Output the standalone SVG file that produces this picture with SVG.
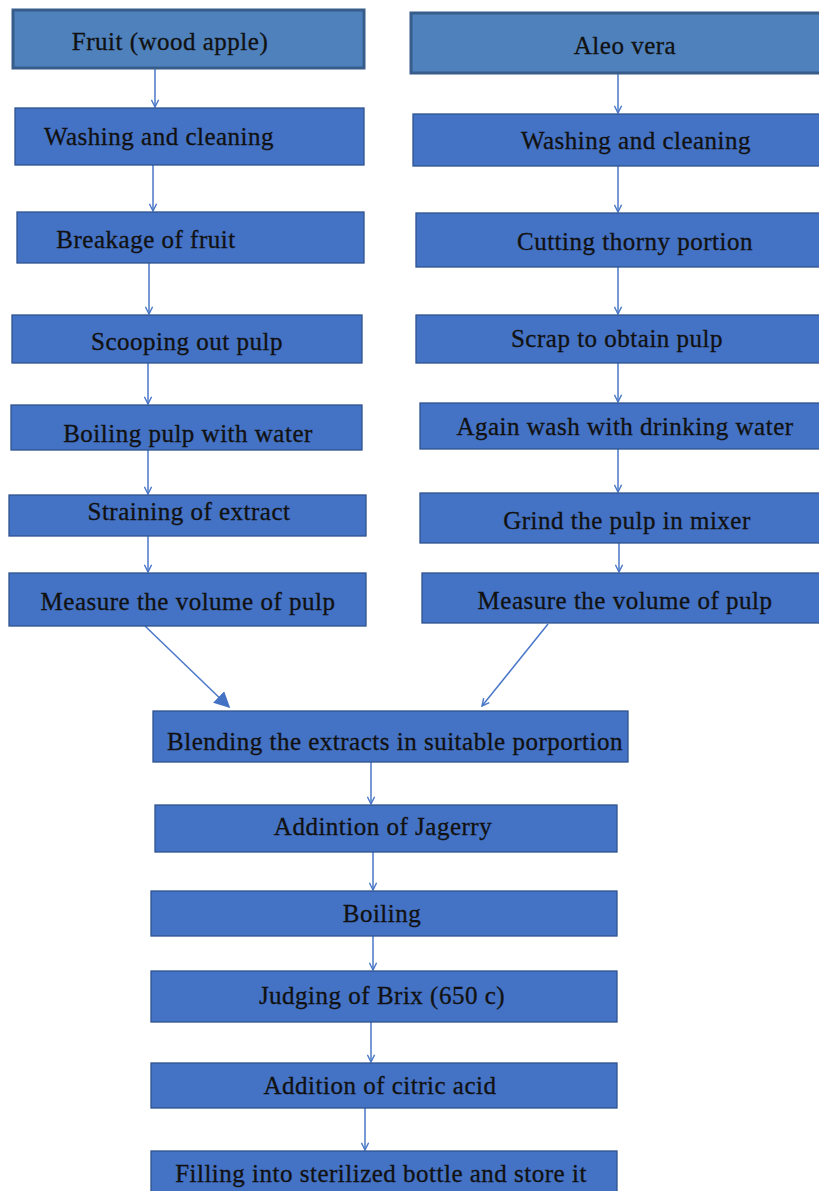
<svg xmlns="http://www.w3.org/2000/svg" width="819" height="1191" viewBox="0 0 819 1191">
<defs>
<style>
.box{fill:#4472c4;stroke:#2f528f;stroke-width:1.3}
.top{fill:#4f81bd;stroke:#385d8a;stroke-width:3}
.t{font-family:"Liberation Serif","Times New Roman",serif;font-size:25px;letter-spacing:0.5px;fill:#111;stroke:#111;stroke-width:0.3;text-anchor:middle}
.c{stroke:#4a78c8;stroke-width:1.5;fill:none}
</style>
<marker id="v" viewBox="0 0 10 10" refX="9" refY="5" markerWidth="9" markerHeight="9" markerUnits="userSpaceOnUse" orient="auto">
<path d="M1,1 L9,5 L1,9" fill="none" stroke="#4a78c8" stroke-width="1.6"/>
</marker>
<marker id="f" viewBox="0 0 10 10" refX="9" refY="5" markerWidth="16" markerHeight="16" markerUnits="userSpaceOnUse" orient="auto">
<path d="M0,0 L10,5 L0,10 z" fill="#4472c4"/>
</marker>
</defs>
<rect width="819" height="1191" fill="#fff"/>
<g id="connectors">
<line class="c" x1="155" y1="68" x2="155" y2="107" marker-end="url(#v)"/>
<line class="c" x1="153" y1="165" x2="153" y2="211" marker-end="url(#v)"/>
<line class="c" x1="149" y1="263" x2="149" y2="314" marker-end="url(#v)"/>
<line class="c" x1="148" y1="363" x2="148" y2="404" marker-end="url(#v)"/>
<line class="c" x1="148" y1="450" x2="148" y2="494" marker-end="url(#v)"/>
<line class="c" x1="148" y1="536" x2="148" y2="572" marker-end="url(#v)"/>
<line class="c" x1="618" y1="73" x2="618" y2="113" marker-end="url(#v)"/>
<line class="c" x1="618" y1="166" x2="618" y2="212" marker-end="url(#v)"/>
<line class="c" x1="618" y1="267" x2="618" y2="314" marker-end="url(#v)"/>
<line class="c" x1="618" y1="363" x2="618" y2="402" marker-end="url(#v)"/>
<line class="c" x1="618" y1="449" x2="618" y2="492" marker-end="url(#v)"/>
<line class="c" x1="619" y1="543" x2="619" y2="572" marker-end="url(#v)"/>
<line class="c" x1="145" y1="626" x2="229" y2="707" marker-end="url(#f)"/>
<line class="c" x1="548" y1="624" x2="482" y2="706" marker-end="url(#v)"/>
<line class="c" x1="371" y1="762" x2="371" y2="804" marker-end="url(#v)"/>
<line class="c" x1="373" y1="852" x2="373" y2="890" marker-end="url(#v)"/>
<line class="c" x1="373" y1="936" x2="373" y2="970" marker-end="url(#v)"/>
<line class="c" x1="371" y1="1022" x2="371" y2="1062" marker-end="url(#v)"/>
<line class="c" x1="365" y1="1108" x2="365" y2="1150" marker-end="url(#v)"/>
</g>
<g id="n-fruit"><rect class="top" x="13" y="10" width="351" height="58"/><text class="t" x="170" y="50">Fruit (wood apple)</text></g>
<g id="n-wash-l"><rect class="box" x="15" y="108" width="349" height="57"/><text class="t" x="159" y="145">Washing and cleaning</text></g>
<g id="n-break"><rect class="box" x="17" y="212" width="347" height="51"/><text class="t" x="146" y="248">Breakage of fruit</text></g>
<g id="n-scoop"><rect class="box" x="12" y="315" width="350" height="48"/><text class="t" x="187" y="350">Scooping out pulp</text></g>
<g id="n-boil-pulp"><rect class="box" x="11" y="405" width="351" height="45"/><text class="t" x="188" y="442">Boiling pulp with water</text></g>
<g id="n-strain"><rect class="box" x="9" y="495" width="357" height="41"/><text class="t" x="189" y="520">Straining of extract</text></g>
<g id="n-measure-l"><rect class="box" x="9" y="573" width="357" height="53"/><text class="t" x="188" y="610">Measure the volume of pulp</text></g>
<g id="n-aleo"><rect class="top" x="411" y="13" width="410" height="60"/><text class="t" x="625" y="54">Aleo vera</text></g>
<g id="n-wash-r"><rect class="box" x="413" y="114" width="408" height="52"/><text class="t" x="636" y="149">Washing and cleaning</text></g>
<g id="n-cut"><rect class="box" x="416" y="213" width="405" height="54"/><text class="t" x="635" y="250">Cutting thorny portion</text></g>
<g id="n-scrap"><rect class="box" x="416" y="315" width="405" height="48"/><text class="t" x="617" y="347">Scrap to obtain pulp</text></g>
<g id="n-again"><rect class="box" x="420" y="403" width="401" height="46"/><text class="t" x="625" y="435">Again wash with drinking water</text></g>
<g id="n-grind"><rect class="box" x="420" y="493" width="401" height="50"/><text class="t" x="627" y="529">Grind the pulp in mixer</text></g>
<g id="n-measure-r"><rect class="box" x="422" y="573" width="399" height="50"/><text class="t" x="625" y="609">Measure the volume of pulp</text></g>
<g id="n-blend"><rect class="box" x="153" y="711" width="475" height="51"/><text class="t" x="395" y="750">Blending the extracts in suitable porportion</text></g>
<g id="n-jaggery"><rect class="box" x="155" y="805" width="462" height="47"/><text class="t" x="383" y="835">Addintion of Jagerry</text></g>
<g id="n-boiling"><rect class="box" x="151" y="891" width="466" height="45"/><text class="t" x="382" y="922">Boiling</text></g>
<g id="n-brix"><rect class="box" x="151" y="971" width="466" height="51"/><text class="t" x="382" y="1004">Judging of Brix (650 c)</text></g>
<g id="n-citric"><rect class="box" x="151" y="1063" width="466" height="45"/><text class="t" x="380" y="1094">Addition of citric acid</text></g>
<g id="n-fill"><rect class="box" x="151" y="1151" width="466" height="45"/><text class="t" x="381" y="1182">Filling into sterilized bottle and store it</text></g>
</svg>
